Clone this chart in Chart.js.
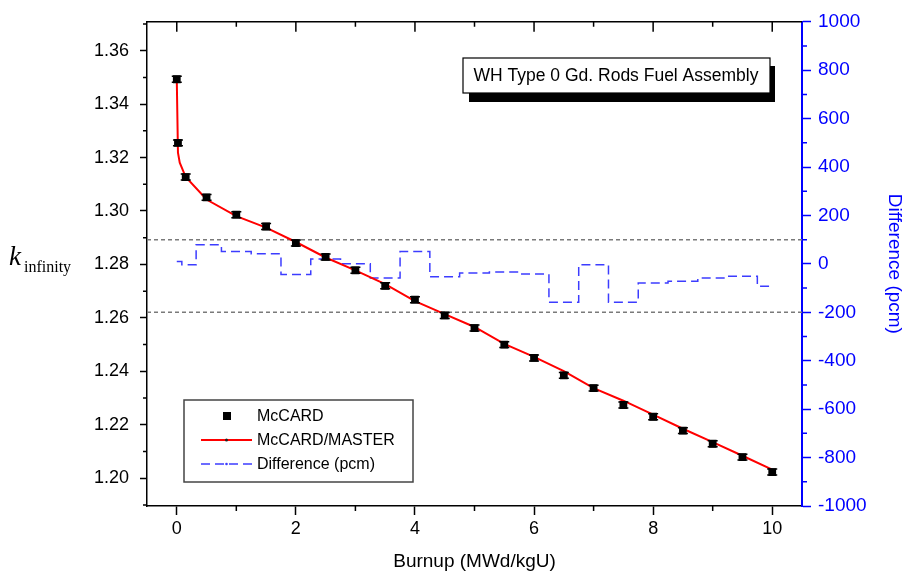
<!DOCTYPE html>
<html>
<head>
<meta charset="utf-8">
<script src="https://cdn.jsdelivr.net/npm/chart.js@4"></script>
<style>
  body { margin: 0; background: #fff; }
  canvas { display: block; }
</style>
</head>
<body>
<canvas id="kinfChart" width="904" height="574"></canvas>
<script>
// McCARD depletion points (burnup in MWd/kgU)
const burnup = [0, 0.02, 0.15, 0.5, 1, 1.5, 2, 2.5, 3, 3.5, 4, 4.5, 5, 5.5, 6, 6.5, 7, 7.5, 8, 8.5, 9, 9.5, 10];
const kMcCARD = [1.3493, 1.3255, 1.3127, 1.3051, 1.2986, 1.2942, 1.2880, 1.2828, 1.2778, 1.2720, 1.2668, 1.2609,
  1.2562, 1.2500, 1.2450, 1.2385, 1.2337, 1.2274, 1.2230, 1.2178, 1.2129, 1.2079, 1.2023];
const kMcCARDErr = [0.0011, 0.0011, 0.0011, 0.0011, 0.0011, 0.0011, 0.0011, 0.0011, 0.0011, 0.0011, 0.0011, 0.0011,
  0.0011, 0.0011, 0.0011, 0.0011, 0.0011, 0.0011, 0.0011, 0.0011, 0.0011, 0.0011, 0.0011];

// MASTER result (has a couple of extra early steps)
const burnupMaster = [0, 0.02, 0.05, 0.15, 0.5, 1, 1.5, 2, 2.5, 3, 3.5, 4, 4.5, 5, 5.5, 6, 6.5, 7, 7.5, 8, 8.5, 9, 9.5, 10];
const kMaster = [1.3494, 1.3218, 1.3181, 1.3127, 1.3043, 1.2981, 1.2938, 1.2884, 1.2826, 1.2778, 1.2726, 1.2663,
  1.2614, 1.2566, 1.2503, 1.2454, 1.2401, 1.2337, 1.2290, 1.2238, 1.2185, 1.2135, 1.2084, 1.2032];

// McCARD - MASTER difference in pcm at each McCARD step
const diffPcm = [10, 10, -3, 79, 51, 42, -44, 20, 1, -58, 51, -53, -38, -33, -42, -158, -3, -158, -79, -72, -58, -51, -92];

// reference band lines on the pcm axis
const guideLines = [100, -200];

const FONT = "'Liberation Sans', Arial, sans-serif";

const extras = {
  id: 'extras',
  beforeDatasetsDraw(chart) {
    const {ctx, chartArea: a} = chart;
    const y2 = chart.scales.y2;
    ctx.save();
    ctx.strokeStyle = '#7a7a7a';
    ctx.lineWidth = 1.5;
    ctx.setLineDash([4, 3]);
    guideLines.forEach(v => {
      const py = y2.getPixelForValue(v);
      ctx.beginPath();
      ctx.moveTo(a.left, py);
      ctx.lineTo(a.right, py);
      ctx.stroke();
    });
    ctx.restore();
  },
  afterDatasetsDraw(chart) {
    // error bars on the McCARD points
    const {ctx} = chart;
    const xs = chart.scales.x, ys = chart.scales.y;
    ctx.save();
    ctx.strokeStyle = '#000';
    ctx.lineWidth = 1.5;
    burnup.forEach((b, i) => {
      const px = xs.getPixelForValue(b);
      const top = ys.getPixelForValue(kMcCARD[i] + kMcCARDErr[i]);
      const bot = ys.getPixelForValue(kMcCARD[i] - kMcCARDErr[i]);
      ctx.beginPath();
      ctx.moveTo(px, top); ctx.lineTo(px, bot);
      ctx.moveTo(px - 5, top); ctx.lineTo(px + 5, top);
      ctx.moveTo(px - 5, bot); ctx.lineTo(px + 5, bot);
      ctx.stroke();
    });
    ctx.restore();
  },
  afterDraw(chart) {
    const {ctx, chartArea: a} = chart;
    const xs = chart.scales.x, ys = chart.scales.y, y2 = chart.scales.y2;
    ctx.save();

    // top frame line with inward ticks
    ctx.strokeStyle = '#000';
    ctx.lineWidth = 1.5;
    ctx.beginPath();
    ctx.moveTo(a.left, a.top);
    ctx.lineTo(a.right, a.top);
    for (let v = 0; v <= 10; v++) {
      const px = xs.getPixelForValue(v);
      ctx.moveTo(px, a.top);
      ctx.lineTo(px, a.top + (v % 2 === 0 ? 10 : 5));
    }
    // minor ticks, bottom and left
    for (let v = 1; v <= 9; v += 2) {
      const px = xs.getPixelForValue(v);
      ctx.moveTo(px, a.bottom);
      ctx.lineTo(px, a.bottom + 5);
    }
    for (let v = 1.19; v <= 1.371; v += 0.02) {
      const py = ys.getPixelForValue(v);
      ctx.moveTo(a.left, py);
      ctx.lineTo(a.left - 4, py);
    }
    ctx.stroke();

    // minor ticks on the pcm axis
    ctx.strokeStyle = '#0000ff';
    ctx.beginPath();
    for (let v = -900; v <= 900; v += 200) {
      const py = y2.getPixelForValue(v);
      ctx.moveTo(a.right, py);
      ctx.lineTo(a.right + 5, py);
    }
    ctx.stroke();

    // k-infinity axis label
    ctx.fillStyle = '#000';
    ctx.textBaseline = 'alphabetic';
    ctx.font = "italic 27px 'Liberation Serif', 'Times New Roman', serif";
    ctx.fillText('k', 9, 265);
    ctx.font = "16px 'Liberation Serif', 'Times New Roman', serif";
    ctx.fillText('infinity', 24, 272);

    // title box with drop shadow
    ctx.fillStyle = '#000';
    ctx.fillRect(469, 66, 306, 36);
    ctx.fillStyle = '#fff';
    ctx.fillRect(463, 58, 307, 35);
    ctx.strokeStyle = '#000';
    ctx.lineWidth = 1.2;
    ctx.strokeRect(463, 58, 307, 35);
    ctx.fillStyle = '#000';
    ctx.font = '17.5px ' + FONT;
    ctx.textAlign = 'center';
    ctx.textBaseline = 'middle';
    ctx.fillText('WH Type 0 Gd. Rods Fuel Assembly', 616, 76);

    // legend
    ctx.fillStyle = '#fff';
    ctx.fillRect(184, 400, 229, 82);
    ctx.strokeStyle = '#444';
    ctx.lineWidth = 1.5;
    ctx.strokeRect(184, 400, 229, 82);
    const ds = chart.data.datasets;
    ctx.textAlign = 'left';
    ctx.font = '16px ' + FONT;
    ctx.fillStyle = '#000';
    ctx.fillRect(223, 412, 8, 8);
    ctx.fillText(ds[0].label, 257, 417);

    ctx.strokeStyle = ds[1].borderColor;
    ctx.lineWidth = 2;
    ctx.beginPath();
    ctx.moveTo(201, 440); ctx.lineTo(252, 440);
    ctx.stroke();
    ctx.beginPath();
    ctx.arc(226.5, 440, 1.5, 0, Math.PI * 2);
    ctx.fillStyle = '#222';
    ctx.fill();
    ctx.fillStyle = '#000';
    ctx.fillText(ds[1].label, 257, 441);

    ctx.strokeStyle = ds[2].borderColor;
    ctx.lineWidth = 1.5;
    ctx.setLineDash(ds[2].borderDash);
    ctx.beginPath();
    ctx.moveTo(201, 464); ctx.lineTo(252, 464);
    ctx.stroke();
    ctx.setLineDash([]);
    ctx.fillStyle = ds[2].borderColor;
    ctx.beginPath();
    ctx.arc(226.5, 464, 1.3, 0, Math.PI * 2);
    ctx.fill();
    ctx.fillStyle = '#000';
    ctx.fillText(ds[2].label, 257, 465);

    ctx.restore();
  }
};

const ctx = document.getElementById('kinfChart').getContext('2d');
new Chart(ctx, {
  type: 'scatter',
  data: {
    datasets: [
      {
        label: 'McCARD',
        data: burnup.map((b, i) => ({x: b, y: kMcCARD[i]})),
        yAxisID: 'y',
        pointStyle: 'rect',
        pointRadius: 5.5,
        backgroundColor: '#000',
        borderColor: '#000',
        borderWidth: 0,
        showLine: false
      },
      {
        label: 'McCARD/MASTER',
        data: burnupMaster.map((b, i) => ({x: b, y: kMaster[i]})),
        yAxisID: 'y',
        showLine: true,
        borderColor: '#ff0000',
        borderWidth: 2,
        pointRadius: 0,
        tension: 0
      },
      {
        label: 'Difference (pcm)',
        data: burnup.map((b, i) => ({x: b, y: diffPcm[i]})),
        yAxisID: 'y2',
        showLine: true,
        stepped: 'middle',
        borderColor: '#3c3cff',
        borderWidth: 1.5,
        borderDash: [9, 5],
        pointRadius: 0
      }
    ]
  },
  options: {
    responsive: false,
    animation: false,
    devicePixelRatio: 1,
    layout: { padding: { top: 18, left: 0, right: 0, bottom: 0 } },
    plugins: {
      legend: { display: false },
      tooltip: { enabled: false }
    },
    scales: {
      x: {
        type: 'linear',
        position: 'bottom',
        min: -0.5,
        max: 10.5,
        ticks: {
          stepSize: 2,
          includeBounds: false,
          maxRotation: 0,
          padding: 3,
          color: '#000',
          font: { family: FONT, size: 18 }
        },
        grid: { drawOnChartArea: false, tickLength: 9, color: '#000', tickWidth: 1.5 },
        border: { color: '#000', width: 1.5 },
        title: {
          display: true,
          text: 'Burnup (MWd/kgU)',
          color: '#000',
          font: { family: FONT, size: 19 },
          padding: { top: 0, bottom: 1 }
        },
        afterFit(s) { s.height = 68; }
      },
      y: {
        position: 'left',
        min: 1.1896,
        max: 1.3708,
        ticks: {
          stepSize: 0.02,
          includeBounds: false,
          padding: 11,
          color: '#000',
          font: { family: FONT, size: 18 },
          callback: v => v.toFixed(2)
        },
        grid: { drawOnChartArea: false, tickLength: 7, color: '#000', tickWidth: 1.5 },
        border: { color: '#000', width: 1.5 },
        afterFit(s) { s.width = 147; }
      },
      y2: {
        position: 'right',
        min: -1000,
        max: 1000,
        ticks: {
          stepSize: 200,
          padding: 7,
          color: '#0000ff',
          font: { family: FONT, size: 19 },
          callback: v => String(v)
        },
        grid: { drawOnChartArea: false, tickLength: 9, color: '#0000ff', tickWidth: 1.5 },
        border: { color: '#0000ff', width: 2 },
        title: {
          display: true,
          text: 'Difference (pcm)',
          color: '#0000ff',
          font: { family: FONT, size: 19, lineHeight: 1 },
          padding: 0
        },
        afterFit(s) { s.width = 102; }
      }
    }
  },
  plugins: [extras]
});
</script>
</body>
</html>
